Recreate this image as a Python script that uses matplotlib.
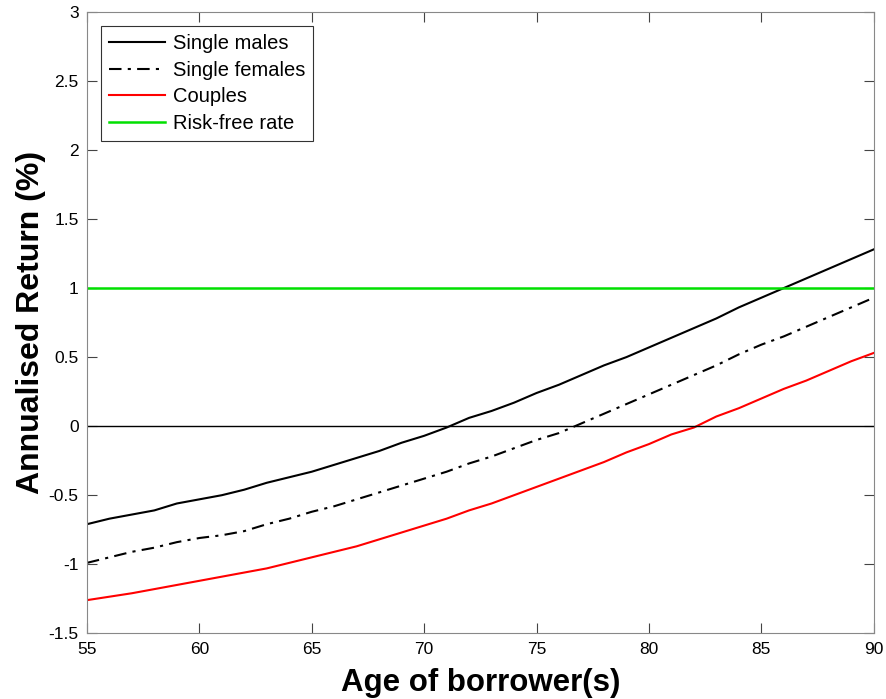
import matplotlib.pyplot as plt
import numpy as np

# 연령 (55~90세)
ages = np.arange(55, 91)

single_males = [-0.71, -0.67, -0.64, -0.61, -0.56, -0.53, -0.50, -0.46, -0.41, -0.37,
                -0.33, -0.28, -0.23, -0.18, -0.12, -0.07, -0.01, 0.06, 0.11, 0.17,
                0.24, 0.30, 0.37, 0.44, 0.50, 0.57, 0.64, 0.71, 0.78, 0.86,
                0.93, 1.00, 1.07, 1.14, 1.21, 1.28]
single_females = [-0.99, -0.95, -0.91, -0.88, -0.84, -0.81, -0.79, -0.76, -0.71, -0.67,
                  -0.62, -0.58, -0.53, -0.48, -0.43, -0.38, -0.33, -0.27, -0.22, -0.16,
                  -0.10, -0.05, 0.02, 0.09, 0.16, 0.23, 0.30, 0.37, 0.44, 0.52,
                  0.59, 0.65, 0.72, 0.79, 0.86, 0.93]
couples = [-1.26, -1.235, -1.21, -1.18, -1.15, -1.12, -1.09, -1.06, -1.03, -0.99,
           -0.95, -0.91, -0.87, -0.82, -0.77, -0.72, -0.67, -0.61, -0.56, -0.50,
           -0.44, -0.38, -0.32, -0.26, -0.19, -0.13, -0.06, -0.01, 0.07, 0.13,
           0.20, 0.27, 0.33, 0.40, 0.47, 0.53]
risk_free = 1.0

x_ticks = [55, 60, 65, 70, 75, 80, 85, 90]
y_ticks = [-1.5, -1, -0.5, 0, 0.5, 1, 1.5, 2, 2.5, 3]
y_tick_labels = ["-1.5", "-1", "-0.5", "0", "0.5", "1", "1.5", "2", "2.5", "3"]

plt.rcParams["font.family"] = ["Liberation Sans", "DejaVu Sans"]

fig = plt.figure(figsize=(8.87, 6.99), dpi=100)
ax = fig.add_axes([0.098, 0.094, 0.887, 0.889])

ax.plot(ages, single_males, color="black", lw=1.5, label="Single males")
ax.plot(ages, single_females, color="black", lw=1.5, linestyle=(0, (6, 3, 1.5, 3)),
        label="Single females")
ax.plot(ages, couples, color="red", lw=1.5, label="Couples")
ax.axhline(risk_free, color="#00e000", lw=1.8, label="Risk-free rate")
ax.axhline(0, color="black", lw=1.0)

ax.set_xlim(55, 90)
ax.set_ylim(-1.5, 3)
ax.set_xticks(x_ticks)
ax.set_yticks(y_ticks)
ax.set_yticklabels(y_tick_labels)
ax.tick_params(direction="in", top=True, right=True, labelsize=12.5, length=7,
               color="#444444", pad=6)
for s in ax.spines.values():
    s.set_color("#888888")

ax.set_xlabel("Age of borrower(s)", fontsize=22.5, fontweight="bold", labelpad=8)
ax.set_ylabel("Annualised Return (%)", fontsize=23, fontweight="bold", labelpad=2)

leg = ax.legend(loc="upper left", prop={"size": 14.5}, fancybox=False, edgecolor="black",
                handlelength=2.8, handletextpad=0.35, borderaxespad=0.7,
                labelspacing=0.38, borderpad=0.4)
leg.get_frame().set_linewidth(0.8)

fig.savefig("out.png", dpi=100)
